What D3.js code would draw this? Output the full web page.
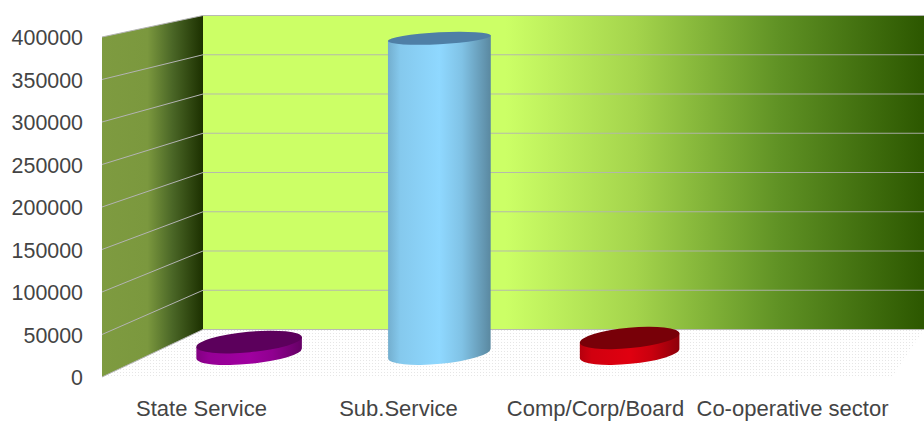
<!DOCTYPE html>
<html>
<head>
<meta charset="utf-8">
<script src="https://cdnjs.cloudflare.com/ajax/libs/d3/7.8.5/d3.min.js"></script>
<style>
  html, body { margin: 0; padding: 0; background: #fff; overflow: hidden; }
  text { font-family: "Liberation Sans", Arial, sans-serif; fill: #444; }
</style>
</head>
<body>
<svg id="chart"></svg>
<script>
// values
var categories = ["State Service", "Sub.Service", "Comp/Corp/Board", "Co-operative sector"];
var values = [14000, 385000, 19000, 0];
var barColors = ["#a000a0", "#8fd8ff", "#e00010", "#000000"];
var barTops = ["#5c005c", "#4f7fa6", "#780008", "#000000"];
var yTicks = [0, 50000, 100000, 150000, 200000, 250000, 300000, 350000, 400000];

var width = 924, height = 421;
var svg = d3.select("#chart").attr("width", width).attr("height", height);
var defs = svg.append("defs");

// front edge, back wall and the mid depth where the bars stand
var frontX = 102, backX = 203;
var frontY = d3.scaleLinear().domain([0, 400000]).range([377, 37]);
var backY = d3.scaleLinear().domain([0, 400000]).range([329.5, 15.5]);
var midY = d3.scaleLinear().domain([0, 400000]).range([353.5, 26]);
var labelX = d3.scaleBand().domain(categories).range([103, 891]);
var barX = d3.scaleBand().domain(categories).range([154, 915]);

function gradient(id, stops, x1, x2) {
    var g = defs.append("linearGradient").attr("id", id);
    if (x1 !== undefined) {
        g.attr("gradientUnits", "userSpaceOnUse").attr("x1", x1).attr("x2", x2).attr("y1", 0).attr("y2", 0);
    }
    stops.forEach(function(s) {
        g.append("stop").attr("offset", s[0]).attr("stop-color", s[1]);
    });
}

gradient("wallBack", [[0, "#ccff66"], [0.42, "#ccff66"], [0.6, "#a4d44c"], [0.8, "#5f9124"], [1, "#2c5700"]], 203, 924);
gradient("wallSide", [[0, "#7e9b40"], [0.45, "#7b983e"], [0.7, "#4a6626"], [1, "#1c3000"]], frontX, backX);

var pattern = defs.append("pattern").attr("id", "floorDots")
    .attr("patternUnits", "userSpaceOnUse").attr("width", 3).attr("height", 3);
pattern.append("rect").attr("width", 1).attr("height", 1).attr("fill", "#e6e6e6");

// floor
svg.append("path")
    .attr("d", d3.line()([[frontX, frontY(0)], [backX, backY(0)], [924, backY(0)], [892, 377]]) + "Z")
    .attr("fill", "url(#floorDots)");

// walls
svg.append("rect")
    .attr("x", backX).attr("y", backY(400000))
    .attr("width", width - backX).attr("height", backY(0) - backY(400000))
    .attr("fill", "url(#wallBack)");
svg.append("path")
    .attr("d", d3.line()([[frontX, frontY(0)], [frontX, frontY(400000)], [backX, backY(400000)], [backX, backY(0)]]) + "Z")
    .attr("fill", "url(#wallSide)");

// grid lines on both walls
svg.selectAll(".gridBack").data(yTicks).enter().append("line")
    .attr("x1", backX).attr("x2", width)
    .attr("y1", function(d) { return backY(d); })
    .attr("y2", function(d) { return backY(d); })
    .attr("stroke", "#b3b3b3").attr("stroke-width", 1).attr("stroke-opacity", 0.9);
svg.selectAll(".gridSide").data(yTicks).enter().append("line")
    .attr("x1", frontX).attr("x2", backX)
    .attr("y1", function(d) { return frontY(d); })
    .attr("y2", function(d) { return backY(d); })
    .attr("stroke", "#b3b3b3").attr("stroke-width", 1);

// y labels
svg.selectAll(".ylab").data(yTicks).enter().append("text")
    .attr("x", 83).attr("y", function(d) { return frontY(d) + 8; })
    .attr("text-anchor", "end").attr("font-size", 21.4)
    .text(function(d) { return d; });

// x labels, baseline kept high enough that the descenders stay on the page
svg.selectAll(".xlab").data(categories).enter().append("text")
    .attr("x", function(d) { return labelX(d) + labelX.bandwidth() / 2; })
    .attr("y", 416)
    .attr("text-anchor", "middle").attr("font-size", 22)
    .text(function(d) { return d; });

// cylinders, flatter ellipse the higher up it sits, narrower further right
function ryAt(y) { return 6 + (y - 38) * 0.014; }
function tiltAt(y) { return -3 - (y - 38) * 0.008; }

function ends(cy, rx) {
    var t = tiltAt(cy) * Math.PI / 180;
    return { ry: ryAt(cy), deg: tiltAt(cy), dx: rx * Math.cos(t), dy: rx * Math.sin(t) };
}

categories.forEach(function(c, i) {
    if (values[i] <= 0) return;
    var rx = 53 - i * 1.5;
    var cx = barX(c) + barX.bandwidth() / 2;
    var y0 = midY(0), y1 = midY(values[i]);
    var a = ends(y0, rx), b = ends(y1, rx);
    var id = "cyl" + i;
    gradient(id, [[0, d3.color(barColors[i]).darker(0.6)], [0.12, d3.color(barColors[i]).darker(0.2)], [0.5, barColors[i]], [0.72, d3.color(barColors[i]).darker(0.3)], [1, d3.color(barColors[i]).darker(1.3)]], cx - rx, cx + rx);
    svg.append("path")
        .attr("d", "M" + (cx - b.dx) + "," + (y1 - b.dy) +
            "L" + (cx - a.dx) + "," + (y0 - a.dy) +
            "A" + rx + "," + a.ry + " " + a.deg + " 0 0 " + (cx + a.dx) + "," + (y0 + a.dy) +
            "L" + (cx + b.dx) + "," + (y1 + b.dy) + "Z")
        .attr("fill", "url(#" + id + ")");
    svg.append("ellipse")
        .attr("cx", cx).attr("cy", y1)
        .attr("rx", rx).attr("ry", b.ry)
        .attr("transform", "rotate(" + b.deg + " " + cx + " " + y1 + ")")
        .attr("fill", barTops[i]);
});
</script>
</body>
</html>
